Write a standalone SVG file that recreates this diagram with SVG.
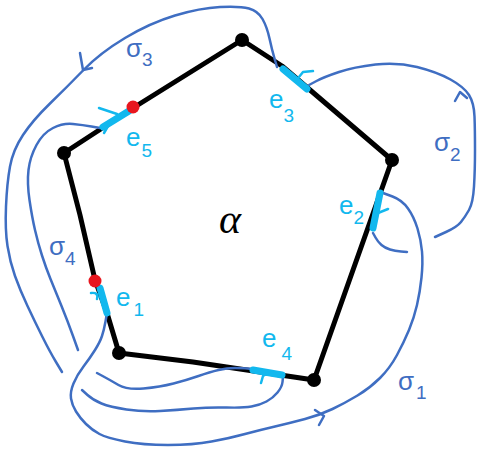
<svg xmlns="http://www.w3.org/2000/svg" width="477" height="450" viewBox="0 0 477 450">
<style>
.edge{fill:none;stroke:#000;stroke-width:5;stroke-linecap:round;stroke-linejoin:round}
.vtx{fill:#000}
.red{fill:#e8161e}
.cy{fill:none;stroke:#12b8ee;stroke-width:7;stroke-linecap:round}
.tick{fill:none;stroke:#12b8ee;stroke-width:2.5;stroke-linecap:round;stroke-linejoin:round}
.crv{fill:none;stroke:#3f6ec2;stroke-width:2.5;stroke-linecap:round;stroke-linejoin:round}
.lc{font-family:"Liberation Sans",Arial,sans-serif;font-size:26px;fill:#12b8ee}
.lb{font-family:"Liberation Sans",Arial,sans-serif;font-size:26px;fill:#3f6ec2}
.sub{font-size:19px}
</style>
<rect width="477" height="450" fill="#fff"/>
<g id="polygon">
<path class="edge" d="M242,40 L282,66 L392,160 L314,380 L193,362 L119,353 L107,313 L95,280 L80,215 L64,153 L133,108 Z"/>
</g>
<g id="connectors">
<path id="sigma3" class="crv" d="M277,67 L274.5,58.5 Q272,50 269.5,38.5 Q267,27 262.5,19 Q258,11 249,8.5 Q240,6 220,7 Q200,8 175,15.5 Q150,23 125,38 Q100,53 83.5,70 Q67,87 50,103.5 Q33,120 23,135 Q13,150 10,166.5 Q7,183 6,206.5 Q5,230 7.5,246 Q10,262 15,276 Q20,290 27.5,306 Q35,322 42.5,337 Q50,352 56,362 L62,372"/>
<path class="crv" d="M80,53 L83,70 L92,68"/>
<path id="sigma4" class="crv" d="M100,128 L91.5,126.5 Q83,125 73,124 Q63,123 53,128 Q43,133 36.5,145 Q30,157 28.5,170 Q27,183 29.5,200 Q32,217 35,230 Q38,243 42,255.5 Q46,268 50.5,279 Q55,290 61.5,306 Q68,322 73,336 L78,350"/>
<path id="lowerA" class="crv" d="M97,373 L103.5,376.5 Q110,380 118.5,385 Q127,390 143.5,388.5 Q160,387 173.5,383.5 Q187,380 198.5,376 Q210,372 218.5,370 Q227,368 235,368 Q243,368 247.5,368.5 L252,369"/>
<path id="lowerB" class="crv" d="M82,390 L87.5,395 Q93,400 101.5,403.5 Q110,407 126.5,409.5 Q143,412 160,411 Q177,410 193.5,408.5 Q210,407 226.5,407.5 Q243,408 251.5,406.5 Q260,405 266.5,401.5 Q273,398 277.5,392.5 Q282,387 282.5,382 L283,377"/>
<path id="sigma1" class="crv" d="M107,313 L105.5,321.5 Q104,330 102,336 Q100,342 95,350 Q90,358 83.5,366.5 Q77,375 73.5,383.5 Q70,392 71,398.5 Q72,405 76,411.5 Q80,418 86,424 Q92,430 99.5,434 Q107,438 125,441.5 Q143,445 168,445 Q193,445 211.5,441.5 Q230,438 245,434 Q260,430 275,426.5 Q290,423 305,419 Q320,415 332.5,409 Q345,403 357.5,395.5 Q370,388 380,378 Q390,368 397,355 Q404,342 409,330 Q414,318 417,305 Q420,292 421.5,277.5 Q423,263 422,251.5 Q421,240 417.5,228.5 Q414,217 408,208.5 Q402,200 392.5,196.5 L383,193"/>
<path class="crv" d="M315,410 L324,416 L319,425"/>
<path id="sigma2" class="crv" d="M309,85 L316.5,81 Q324,77 339,72 Q354,67 375.5,64.5 Q397,62 417,67 Q437,72 450.5,79.5 Q464,87 469,95 Q474,103 474.5,116.5 Q475,130 475,150 Q475,170 474,186.5 Q473,203 469,210 Q465,217 461,222 Q457,227 446,232 L435,237"/>
<path class="crv" d="M455,101 L460,92 L467,98"/>
<path id="e2lower" class="crv" d="M373,233 L375.5,237.5 Q378,242 381.5,245 Q385,248 390,249.5 Q395,251 401,251.5 L407,252"/>
</g>
<g id="vertices">
<circle class="vtx" cx="242" cy="40" r="7"/>
<circle class="vtx" cx="392" cy="160" r="7"/>
<circle class="vtx" cx="314" cy="380" r="7"/>
<circle class="vtx" cx="119" cy="353" r="7"/>
<circle class="vtx" cx="64" cy="153" r="7"/>
</g>
<g id="e5">
<line class="cy" x1="103" y1="127" x2="129" y2="111"/>
<path class="tick" d="M99,108 L117,114 M104,133 L111,121"/>
<text class="lc" x="126" y="146">e<tspan class="sub" dx="1" dy="11">5</tspan></text>
</g>
<g id="e3">
<line class="cy" x1="283" y1="69" x2="307" y2="89"/>
<path class="tick" d="M299,77 L303,72 L313,71"/>
<text class="lc" x="269" y="108">e<tspan class="sub" dx="0" dy="14">3</tspan></text>
</g>
<g id="e2">
<line class="cy" x1="380" y1="193" x2="373" y2="228"/>
<path class="tick" d="M378,213 L388,209"/>
<text class="lc" x="339" y="214">e<tspan class="sub" dx="0" dy="10">2</tspan></text>
</g>
<g id="e1">
<line class="cy" x1="100" y1="288" x2="107" y2="313"/>
<path class="tick" d="M91,293 Q99,292 97,299"/>
<text class="lc" x="116" y="306">e<tspan class="sub" dx="3" dy="10">1</tspan></text>
</g>
<g id="e4">
<line class="cy" x1="253" y1="370" x2="282" y2="375"/>
<path class="tick" d="M261,383 L263,376 L268,373"/>
<text class="lc" x="262" y="347">e<tspan class="sub" dx="5" dy="13">4</tspan></text>
</g>
<g id="marks">
<circle class="red" cx="133" cy="107" r="6.5"/>
<circle class="red" cx="95" cy="281" r="6.5"/>
</g>
<g id="labels">
<text class="lb" x="126" y="57">σ<tspan class="sub" dx="0" dy="9">3</tspan></text>
<text class="lb" x="434" y="151">σ<tspan class="sub" dx="0" dy="10">2</tspan></text>
<text class="lb" x="49" y="255">σ<tspan class="sub" dx="0" dy="10">4</tspan></text>
<text class="lb" x="398" y="390">σ<tspan class="sub" dx="2" dy="9">1</tspan></text>
<text x="230" y="233" font-family="'Liberation Serif',serif" font-style="italic" font-size="42" text-anchor="middle" fill="#000">α</text>
</g>
</svg>
